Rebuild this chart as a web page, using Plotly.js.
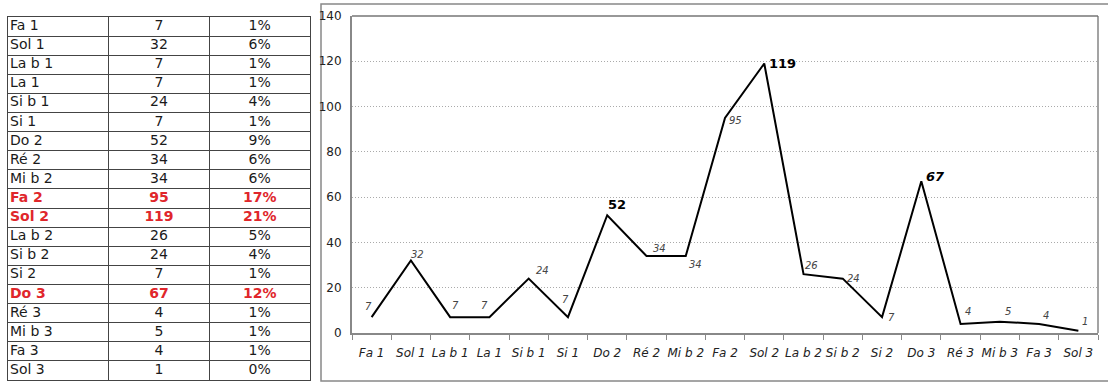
<!DOCTYPE html>
<html><head><meta charset="utf-8">
<script src="https://cdn.plot.ly/plotly-3.0.1.min.js"></script>
<style>html,body{margin:0;padding:0;background:#fff}#chart{width:1108px;height:382px}</style>
</head><body><div id="chart"></div>
<script>
const notes = ["Fa 1","Sol 1","La b 1","La 1","Si b 1","Si 1","Do 2","Ré 2","Mi b 2","Fa 2","Sol 2","La b 2","Si b 2","Si 2","Do 3","Ré 3","Mi b 3","Fa 3","Sol 3"];
const counts = [7,32,7,7,24,7,52,34,34,95,119,26,24,7,67,4,5,4,1];
const percents = ["1%","6%","1%","1%","4%","1%","9%","6%","6%","17%","21%","5%","4%","1%","12%","1%","1%","1%","0%"];
const highlighted = ["Fa 2","Sol 2","Do 3"];
const boldLabels = ["Do 2","Sol 2","Do 3"];

// label offsets (px) for each point label
const labelShift = [[-3,11],[7,6],[5,12],[-5,12],[14,8],[-2,18],[10,11],[13,8],[10,-8],[10,-3],[18,0],[8,9],[11,0],[9,0],[14,5],[7,12],[8,10],[7,8],[7,9]];

const W = 1108, H = 382;
const fx = px => px / W, fy = py => (H - py) / H;

const isHi = notes.map(n => highlighted.includes(n));
const rowColor = isHi.map(h => h ? '#e0262b' : '#1a1a1a');
const wrap = (v, i) => isHi[i] ? '<b>' + v + '</b>' : String(v);
const rowIdx = notes.map((n, i) => i + 0.5);
const rowTicks = notes.map((n, i) => i).concat([notes.length]);

const tableFont = {family: 'DejaVu Sans', size: 14, color: rowColor};
const colTrace = (xv, vals, pos) => ({
  type: 'scatter', mode: 'text', xaxis: 'x2', yaxis: 'y2',
  x: notes.map(() => xv), y: rowIdx, text: vals.map((v, i) => wrap(v, i)),
  textposition: pos, textfont: tableFont, hoverinfo: 'skip', cliponaxis: false
});

const lineTrace = {
  type: 'scatter', mode: 'lines', x: notes, y: counts,
  line: {color: '#000', width: 2}, hoverinfo: 'skip', xaxis: 'x', yaxis: 'y'
};

const annotations = notes.map((n, i) => {
  const bold = boldLabels.includes(n);
  const italic = !bold || n === 'Do 3';
  let t = String(counts[i]);
  if (bold) t = '<b>' + t + '</b>';
  if (italic) t = '<i>' + t + '</i>';
  return {
    x: n, y: counts[i], xref: 'x', yref: 'y', showarrow: false, text: t,
    xshift: labelShift[i][0], yshift: labelShift[i][1],
    font: bold ? {family: 'DejaVu Sans', size: 13, color: '#000'} : {family: 'DejaVu Sans', size: 10, color: '#444'}
  };
});

const layout = {
  width: W, height: H,
  margin: {l: 0, r: 0, t: 0, b: 0},
  paper_bgcolor: '#fff', plot_bgcolor: 'rgba(0,0,0,0)',
  showlegend: false,
  xaxis: {
    type: 'category', domain: [fx(352), fx(1098)], range: [-0.5, 18.5],
    showline: true, linecolor: '#888', linewidth: 2,
    ticks: 'outside', tickson: 'boundaries', ticklen: 5, tickcolor: '#888', tickwidth: 1,
    showgrid: false, zeroline: false, fixedrange: true,
    tickfont: {family: 'DejaVu Sans', size: 12, color: '#222', style: 'italic'},
    tickangle: 0, ticklabelstandoff: 8
  },
  yaxis: {
    domain: [fy(333), fy(16)], range: [0, 140], dtick: 20,
    showline: true, linecolor: '#888', linewidth: 2,
    showgrid: true, gridcolor: '#aaa', griddash: '1px,2px', gridwidth: 1,
    zeroline: false, ticks: '', fixedrange: true, ticklabelstandoff: 6,
    tickfont: {family: 'DejaVu Sans', size: 12, color: '#222'}
  },
  xaxis2: {
    domain: [fx(8), fx(310)], range: [0, 3], anchor: 'y2',
    tickvals: [0, 1, 2, 3], showticklabels: false, ticks: '',
    showgrid: true, gridcolor: '#444', gridwidth: 1, zeroline: false,
    showline: true, mirror: true, linecolor: '#444', linewidth: 1, fixedrange: true
  },
  yaxis2: {
    domain: [fy(380), fy(17)], range: [notes.length, 0], anchor: 'x2',
    tickvals: rowTicks, showticklabels: false, ticks: '',
    showgrid: true, gridcolor: '#444', gridwidth: 1, zeroline: false,
    showline: true, mirror: true, linecolor: '#444', linewidth: 1, fixedrange: true
  },
  shapes: [
    {type: 'rect', xref: 'paper', yref: 'paper', x0: fx(321), x1: fx(1110), y0: fy(381), y1: fy(4), line: {color: '#888', width: 1.5}, layer: 'below'},
    {type: 'line', xref: 'paper', yref: 'paper', x0: fx(352), x1: fx(1098), y0: fy(16), y1: fy(16), line: {color: '#333', width: 1.2}},
    {type: 'line', xref: 'paper', yref: 'paper', x0: fx(1098), x1: fx(1098), y0: fy(16), y1: fy(333), line: {color: '#666', width: 1.2}}
  ],
  annotations: annotations
};

const traces = [
  colTrace(0.02, notes, 'middle right'),
  colTrace(1.5, counts, 'middle center'),
  colTrace(2.5, percents, 'middle center'),
  lineTrace
];

Plotly.newPlot('chart', traces, layout, {displayModeBar: false, staticPlot: true});
</script>
</body></html>
